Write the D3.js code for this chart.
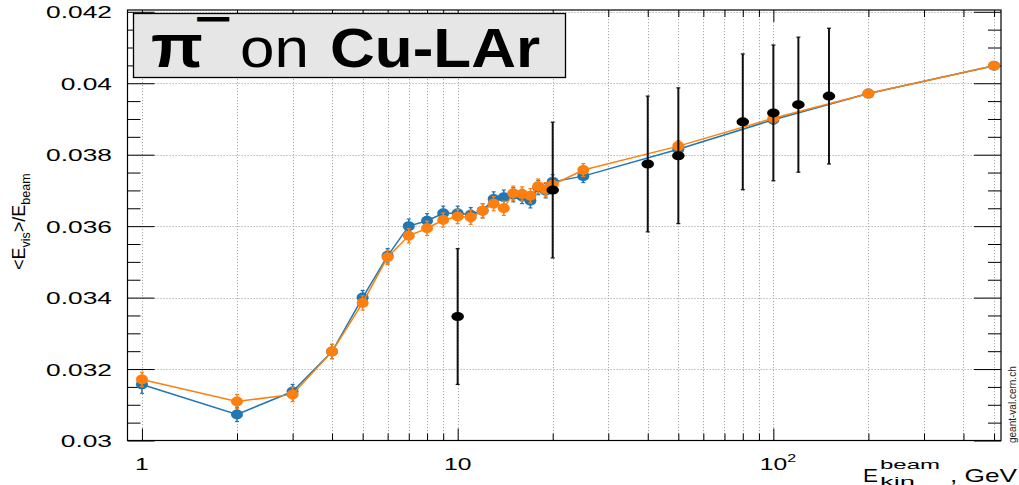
<!DOCTYPE html>
<html>
<head>
<meta charset="utf-8">
<script src="https://cdn.jsdelivr.net/npm/d3@7"></script>
<style>
  body { margin: 0; background: #fff; }
  svg { display: block; font-family: "Liberation Sans", Arial, sans-serif; }
</style>
</head>
<body>
<svg id="chart" width="1019" height="485"></svg>
<script>
// Beam kinetic energies (GeV) of the two simulated series
const energies = [1, 2, 3, 4, 5, 6, 7, 8, 9, 10, 11, 12, 13, 14, 15, 16, 17, 18, 19, 20, 25, 50, 100, 200, 500];

// Simulation A (blue): <E_vis>/E_beam and its uncertainty
const simBlue = [0.03157, 0.03073, 0.03137, 0.03249, 0.03400, 0.03517, 0.03600, 0.03615, 0.03636, 0.03636,
                 0.03632, 0.03643, 0.03676, 0.03681, 0.03688, 0.03683, 0.03671, 0.03708, 0.03699, 0.03724,
                 0.03740, 0.03815, 0.03898, 0.03971, 0.04049];
const simBlueErr = [0.00025, 0.0002, 0.0002, 0.0002, 0.0002, 0.0002, 0.0002, 0.0002, 0.0002, 0.0002,
                    0.0002, 0.0002, 0.0002, 0.0002, 0.0002, 0.0002, 0.0002, 0.0002, 0.0002, 0.0002,
                    0.00018, 0.00015, 0.00012, 0.0001, 0.0001];

// Simulation B (orange)
const simOrange = [0.03171, 0.03109, 0.03129, 0.03249, 0.03385, 0.03513, 0.03573, 0.03594, 0.03617, 0.03627,
                   0.03625, 0.03643, 0.03663, 0.03650, 0.03692, 0.03690, 0.03685, 0.03712, 0.03702, 0.03716,
                   0.03757, 0.03824, 0.03902, 0.03971, 0.04049];
const simOrangeErr = [0.0002, 0.0002, 0.0002, 0.0002, 0.0002, 0.0002, 0.0002, 0.0002, 0.0002, 0.0002,
                      0.0002, 0.0002, 0.0002, 0.0002, 0.0002, 0.0002, 0.0002, 0.0002, 0.0002, 0.0002,
                      0.00018, 0.00015, 0.00012, 0.0001, 0.0001];

// Measured points (black)
const dataEnergies = [10, 20, 40, 50, 80, 100, 120, 150];
const dataValues = [0.03347, 0.03701, 0.03774, 0.03797, 0.03892, 0.03917, 0.03940, 0.03964];
const dataErr = [0.0019, 0.0019, 0.0019, 0.0019, 0.0019, 0.0019, 0.00189, 0.0019];

// Axis ticks
const yTicks = [0.030, 0.032, 0.034, 0.036, 0.038, 0.040, 0.042];
const yTickLabels = ["0.03", "0.032", "0.034", "0.036", "0.038", "0.04", "0.042"];
const xMajorTicks = [1, 10, 100];
const xTickBase = ["1", "10", "10"];
const xTickExp = ["", "", "2"];

const svg = d3.select("#chart");
const L = 127.5, R = 1001, T = 10, B = 440.5;

const x = d3.scaleLog().domain([0.9, 526]).range([L, R]);
const y = d3.scaleLinear().domain([0.03, 0.04205]).range([B, T]);

// log grid positions: 1..9, 10..90, 100..500
const xAll = [];
for (const dec of [1, 10, 100]) for (let k = 1; k <= 9; k++) { const v = k * dec; if (v <= 526) xAll.push(v); }
const xMinor = xAll.filter(v => !xMajorTicks.includes(v));
const yMinor = d3.range(0.0305, 0.042, 0.0005).filter(v => Math.abs(Math.round(v / 0.002) * 0.002 - v) > 1e-6);

// dotted grid
const grid = svg.append("g").attr("stroke", "#a8a8a8").attr("stroke-width", 1).attr("stroke-dasharray", "1.2,1.8");
grid.selectAll("line.v").data(xAll).join("line")
  .attr("x1", d => Math.round(x(d)) + 0.5).attr("x2", d => Math.round(x(d)) + 0.5)
  .attr("y1", T).attr("y2", B);
grid.selectAll("line.h").data(yTicks.slice(1)).join("line")
  .attr("x1", L).attr("x2", R)
  .attr("y1", d => Math.round(y(d)) + 0.5).attr("y2", d => Math.round(y(d)) + 0.5);

// inward ticks on all four sides
function ticks(axis, tr) {
  const g = svg.append("g").attr("transform", tr).call(axis);
  g.select(".domain").remove();
  g.selectAll("text").remove();
  g.selectAll("line").attr("stroke", "#000").attr("stroke-width", 1);
}
ticks(d3.axisBottom(x).tickValues(xMajorTicks).tickSize(-12), `translate(0,${B})`);
ticks(d3.axisBottom(x).tickValues(xMinor).tickSize(-7), `translate(0,${B})`);
ticks(d3.axisTop(x).tickValues(xMajorTicks).tickSize(-12), `translate(0,${T})`);
ticks(d3.axisTop(x).tickValues(xMinor).tickSize(-7), `translate(0,${T})`);
ticks(d3.axisLeft(y).tickValues(yTicks).tickSize(-27), `translate(${L},0)`);
ticks(d3.axisLeft(y).tickValues(yMinor).tickSize(-13), `translate(${L},0)`);
ticks(d3.axisRight(y).tickValues(yTicks).tickSize(-27), `translate(${R},0)`);
ticks(d3.axisRight(y).tickValues(yMinor).tickSize(-13), `translate(${R},0)`);

// frame
svg.append("rect").attr("x", L).attr("y", T).attr("width", R - L).attr("height", B - T)
  .attr("fill", "none").attr("stroke", "#000").attr("stroke-width", 1.2);

// simulated series: line, error bars, markers
function series(vals, errs, color) {
  const pts = energies.map((e, i) => ({ e, v: vals[i], s: errs[i] }));
  const g = svg.append("g");
  g.append("path").datum(pts)
    .attr("d", d3.line().x(d => x(d.e)).y(d => y(d.v)))
    .attr("fill", "none").attr("stroke", color).attr("stroke-width", 1.5);
  g.selectAll("line.err").data(pts).join("line")
    .attr("x1", d => x(d.e)).attr("x2", d => x(d.e))
    .attr("y1", d => y(d.v - d.s)).attr("y2", d => y(d.v + d.s))
    .attr("stroke", color).attr("stroke-width", 1.5);
  g.selectAll("line.cap").data(pts.flatMap(d => [d.v - d.s, d.v + d.s].map(v => ({ e: d.e, v })))).join("line")
    .attr("x1", d => x(d.e) - 2).attr("x2", d => x(d.e) + 2)
    .attr("y1", d => y(d.v)).attr("y2", d => y(d.v))
    .attr("stroke", color).attr("stroke-width", 1.2);
  g.selectAll("ellipse").data(pts).join("ellipse")
    .attr("cx", d => x(d.e)).attr("cy", d => y(d.v))
    .attr("rx", 6).attr("ry", 5).attr("fill", color);
}
series(simBlue, simBlueErr, "#1f77b4");
series(simOrange, simOrangeErr, "#ff7f0e");

// measured data
const dpts = dataEnergies.map((e, i) => ({ e, v: dataValues[i], s: dataErr[i] }));
const dg = svg.append("g");
dg.selectAll("line.err").data(dpts).join("line")
  .attr("x1", d => x(d.e)).attr("x2", d => x(d.e))
  .attr("y1", d => y(d.v - d.s)).attr("y2", d => y(d.v + d.s))
  .attr("stroke", "#111").attr("stroke-width", 2);
dg.selectAll("line.cap").data(dpts.flatMap(d => [d.v - d.s, d.v + d.s].map(v => ({ e: d.e, v })))).join("line")
  .attr("x1", d => x(d.e) - 2).attr("x2", d => x(d.e) + 2)
  .attr("y1", d => y(d.v)).attr("y2", d => y(d.v))
  .attr("stroke", "#111").attr("stroke-width", 1.2);
dg.selectAll("ellipse").data(dpts).join("ellipse")
  .attr("cx", d => x(d.e)).attr("cy", d => y(d.v))
  .attr("rx", 6.3).attr("ry", 4.5).attr("fill", "#000");

// y tick labels
svg.append("g").selectAll("text").data(yTicks).join("text")
  .attr("transform", d => `translate(112,${y(d) + 6.5}) scale(1.55,1)`)
  .attr("text-anchor", "end").attr("font-size", 17).attr("fill", "#000")
  .text((d, i) => yTickLabels[i]);

// x tick labels
const xl = svg.append("g").selectAll("g").data(xMajorTicks).join("g")
  .attr("transform", d => `translate(${x(d)},470) scale(1.45,1)`);
xl.append("text").attr("text-anchor", "middle").attr("font-size", 17)
  .text((d, i) => xTickBase[i]);
xl.append("text").attr("x", (d, i) => xTickBase[i].length * 4.8).attr("y", -8).attr("font-size", 11)
  .text((d, i) => xTickExp[i]);

// y axis title: <E_vis>/E_beam
const yt = svg.append("text").attr("transform", "translate(25,270) rotate(-90)")
  .attr("font-size", 18).attr("fill", "#000");
yt.append("tspan").text("<E");
yt.append("tspan").attr("dy", 5).attr("font-size", 12.5).text("vis");
yt.append("tspan").attr("dy", -5).text(">/E");
yt.append("tspan").attr("dy", 5).attr("font-size", 12.5).text("beam");

// x axis title: E_kin^beam, GeV
const xt = svg.append("g");
xt.append("text").attr("x", 863).attr("y", 482).attr("font-size", 19)
  .attr("textLength", 15).attr("lengthAdjust", "spacingAndGlyphs").text("E");
xt.append("text").attr("x", 880).attr("y", 469).attr("font-size", 13)
  .attr("textLength", 60).attr("lengthAdjust", "spacingAndGlyphs").text("beam");
xt.append("text").attr("x", 880).attr("y", 486).attr("font-size", 13)
  .attr("textLength", 35).attr("lengthAdjust", "spacingAndGlyphs").text("kin");
xt.append("text").attr("x", 950).attr("y", 482).attr("font-size", 19)
  .attr("textLength", 67).attr("lengthAdjust", "spacingAndGlyphs").text(", GeV");

// site tag
svg.append("text").attr("transform", "translate(1016,443) rotate(-90)")
  .attr("font-size", 10).attr("fill", "#222").text("geant-val.cern.ch");

// title box: π⁻ on Cu-LAr
const tb = svg.append("g");
tb.append("rect").attr("x", 133.5).attr("y", 13.5).attr("width", 432).attr("height", 64)
  .attr("fill", "#e6e6e6").attr("stroke", "#000").attr("stroke-width", 1.3);
tb.append("text").attr("transform", "translate(151,67) scale(1,0.9)")
  .attr("font-size", 68).attr("font-weight", "bold").text("π");
// superscript charge sign, flattened so it stays a thick short bar
tb.append("text").attr("transform", "translate(196,28.5) scale(1,0.5)")
  .attr("font-size", 60).attr("font-weight", "bold")
  .attr("stroke", "#000").attr("stroke-width", 2).text("−");
tb.append("text").attr("transform", "translate(240,67) scale(1,0.9)")
  .attr("font-size", 62).text("on");
tb.append("text").attr("transform", "translate(330,67) scale(1,0.9)")
  .attr("font-size", 62).attr("font-weight", "bold").text("Cu-LAr");
</script>
</body>
</html>
